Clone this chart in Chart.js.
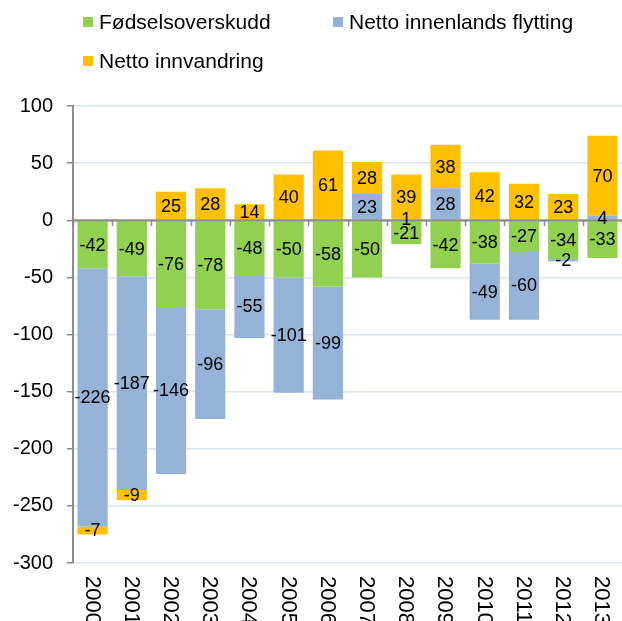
<!DOCTYPE html>
<html>
<head>
<meta charset="utf-8">
<script src="https://cdn.jsdelivr.net/npm/chart.js@4/dist/chart.umd.min.js"></script>
<style>
  body { margin: 0; background: #fff; }
  #wrap { position: relative; width: 622px; height: 621px; }
  .leg { position: absolute; font: 21px "Liberation Sans", Arial, sans-serif; color: #000; white-space: nowrap; line-height: 24px; }
  .leg i { position: absolute; width: 10px; height: 10px; left: -16px; top: 7px; }
</style>
</head>
<body>
<div id="wrap">
  <canvas id="chart" width="622" height="621"></canvas>
  <div class="leg" id="leg0" style="left:99px; top:10px;"><i></i></div>
  <div class="leg" id="leg1" style="left:349px; top:10px;"><i></i></div>
  <div class="leg" id="leg2" style="left:99px; top:49px;"><i></i></div>
</div>
<script>
var years = ['2000', '2001', '2002', '2003', '2004', '2005', '2006', '2007', '2008', '2009', '2010', '2011', '2012', '2013'];
var seriesNames = ['Fødselsoverskudd', 'Netto innenlands flytting', 'Netto innvandring'];
var fodsel = [-42, -49, -76, -78, -48, -50, -58, -50, -21, -42, -38, -27, -34, -33];
var innenlands = [-226, -187, -146, -96, -55, -101, -99, 23, 1, 28, -49, -60, -2, 4];
var innvandring = [-7, -9, 25, 28, 14, 40, 61, 28, 39, 38, 42, 32, 23, 70];
var yTicks = [-300, -250, -200, -150, -100, -50, 0, 50, 100];
var colors = ['#92d050', '#95b3d7', '#ffc000'];

// legend in html, two columns like the original
for (var k = 0; k < 3; k++) {
    var el = document.getElementById('leg' + k);
    el.appendChild(document.createTextNode(seriesNames[k]));
    el.querySelector('i').style.background = colors[k];
}

var labelPlugin = {
    id: 'labels',
    afterDatasetsDraw: function (chart) {
        var ctx = chart.ctx;
        var x = chart.scales.x;
        var y = chart.scales.y;
        var area = chart.chartArea;
        var y0 = y.getPixelForValue(0);

        // zero line with tick marks
        ctx.save();
        ctx.strokeStyle = '#8c8c8c';
        ctx.lineWidth = 2;
        ctx.beginPath();
        ctx.moveTo(area.left, y0);
        ctx.lineTo(area.right, y0);
        ctx.stroke();
        ctx.lineWidth = 1.5;
        for (var i = 0; i <= years.length; i++) {
            var tx = Math.round(x.getPixelForValue(i - 0.5)) + 0.5;
            ctx.beginPath();
            ctx.moveTo(tx, y0);
            ctx.lineTo(tx, y0 + 6);
            ctx.stroke();
        }

        // values in the middle of each segment
        ctx.fillStyle = '#000';
        ctx.font = '18px "Liberation Sans", Arial, sans-serif';
        ctx.textAlign = 'center';
        ctx.textBaseline = 'middle';
        chart.data.datasets.forEach(function (ds, d) {
            var meta = chart.getDatasetMeta(d);
            meta.data.forEach(function (bar, j) {
                ctx.fillText(String(ds.data[j]), bar.x, (bar.y + bar.base) / 2 + 1);
            });
        });

        // year labels, rotated clockwise
        ctx.font = '22px "Liberation Sans", Arial, sans-serif';
        ctx.textAlign = 'left';
        for (var j = 0; j < years.length; j++) {
            ctx.save();
            ctx.translate(x.getPixelForValue(j) - 1, area.bottom + 13);
            ctx.rotate(Math.PI / 2);
            ctx.fillText(years[j], 0, 0);
            ctx.restore();
        }
        ctx.restore();
    }
};

new Chart(document.getElementById('chart'), {
    type: 'bar',
    data: {
        labels: years,
        datasets: [
            { label: seriesNames[0], data: fodsel, backgroundColor: colors[0] },
            { label: seriesNames[1], data: innenlands, backgroundColor: colors[1] },
            { label: seriesNames[2], data: innvandring, backgroundColor: colors[2] }
        ]
    },
    options: {
        responsive: false,
        animation: false,
        layout: { padding: { left: 0, top: 106, right: 0, bottom: 58 } },
        datasets: {
            bar: { categoryPercentage: 1, barPercentage: 0.77, borderWidth: 0 }
        },
        plugins: {
            legend: { display: false },
            tooltip: { enabled: false }
        },
        scales: {
            x: { stacked: true, display: false },
            y: {
                stacked: true,
                min: -300,
                max: 100,
                afterFit: function (scale) { scale.width = 73; },
                afterBuildTicks: function (scale) {
                    scale.ticks = yTicks.map(function (v) { return { value: v }; });
                },
                ticks: {
                    color: '#000',
                    padding: 14,
                    font: { family: '"Liberation Sans", Arial, sans-serif', size: 20 }
                },
                grid: {
                    color: function (c) { return c.tick && c.tick.value === 0 ? '#8c8c8c' : '#dce6f2'; },
                    lineWidth: 1.5,
                    tickLength: 6,
                    tickColor: '#8c8c8c'
                },
                border: { color: '#8c8c8c', width: 2 }
            }
        }
    },
    plugins: [labelPlugin]
});
</script>
</body>
</html>
